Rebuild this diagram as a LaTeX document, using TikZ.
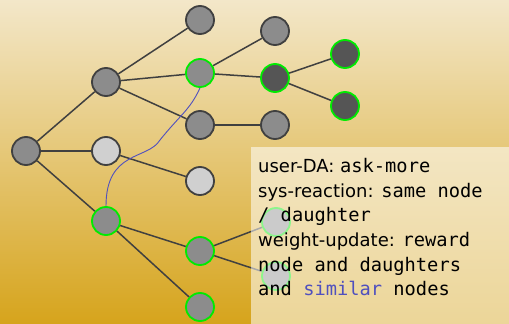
\documentclass[tikz,border=0pt]{standalone}
\usepackage{fontspec}
\setmainfont{DejaVu Sans}
\setmonofont[Scale=1.04]{DejaVu Sans Mono}
\definecolor{bgtop}{RGB}{243,231,201}
\definecolor{bgbot}{RGB}{214,164,28}
\definecolor{edgecol}{RGB}{64,64,64}
\definecolor{midgray}{RGB}{140,140,140}
\definecolor{litegray}{RGB}{208,208,208}
\definecolor{darkgray}{RGB}{85,85,85}
\definecolor{hit}{RGB}{0,235,0}
\definecolor{simblue}{RGB}{80,80,190}
\tikzset{
  tnode/.style={circle, minimum size=28pt, inner sep=0pt, line width=1.8pt, draw=edgecol, fill=midgray},
  lite/.style={fill=litegray},
  dark/.style={fill=darkgray},
  sel/.style={draw=hit},
  link/.style={edgecol, line width=1.5pt},
}
\begin{document}
\begin{tikzpicture}[x=1pt, y=-1pt]
\shade[top color=bgtop, bottom color=bgbot] (0,0) rectangle (509,324);
\useasboundingbox (0,0) rectangle (509,324);
\node[tnode] (r) at (26,151) {};
\node[tnode] (a1) at (106,82) {};
\node[tnode, lite] (a2) at (106,151) {};
\node[tnode, sel] (a3) at (106,221) {};
\node[tnode] (b1) at (200,20) {};
\node[tnode, sel] (b2) at (200,73) {};
\node[tnode] (b3) at (200,125) {};
\node[tnode, lite] (b4) at (200,181) {};
\node[tnode, sel] (b5) at (200,251) {};
\node[tnode, sel] (b6) at (200,307) {};
\node[tnode] (c1) at (275,31) {};
\node[tnode, dark, sel] (c2) at (275,78) {};
\node[tnode] (c3) at (275,125) {};
\node[tnode, sel] (c4) at (276,222) {};
\node[tnode, sel] (c5) at (276,276) {};
\node[tnode, dark, sel] (d1) at (345,54) {};
\node[tnode, dark, sel] (d2) at (345,106) {};
\foreach \u/\v in {r/a1, r/a2, r/a3, a1/b1, a1/b2, a1/b3, a2/b4, a3/b5, a3/b6,
                   b2/c1, b2/c2, b3/c3, b5/c4, b5/c5, c2/d1, c2/d2}
  \draw[link] (\u) -- (\v);
\draw[simblue, line width=0.9pt] (a3.north) .. controls (106,150) and (148,160) .. (160,140)
  .. controls (180,115) and (190,110) .. (b2.south);
\fill[white, opacity=0.55] (251,147) rectangle (509,324);
\node[anchor=north west, inner sep=0pt, align=left, font=\fontsize{18}{24.7}\selectfont] (info) at (258,158)
  {user-DA: \texttt{ask-more}\\
   sys-reaction: \texttt{same node}\\
   \texttt{/ daughter}\\
   weight-update: \texttt{reward}\\
   \texttt{node and daughters}\\
   \texttt{and \textcolor{simblue}{similar} nodes}};
\end{tikzpicture}
\end{document}
